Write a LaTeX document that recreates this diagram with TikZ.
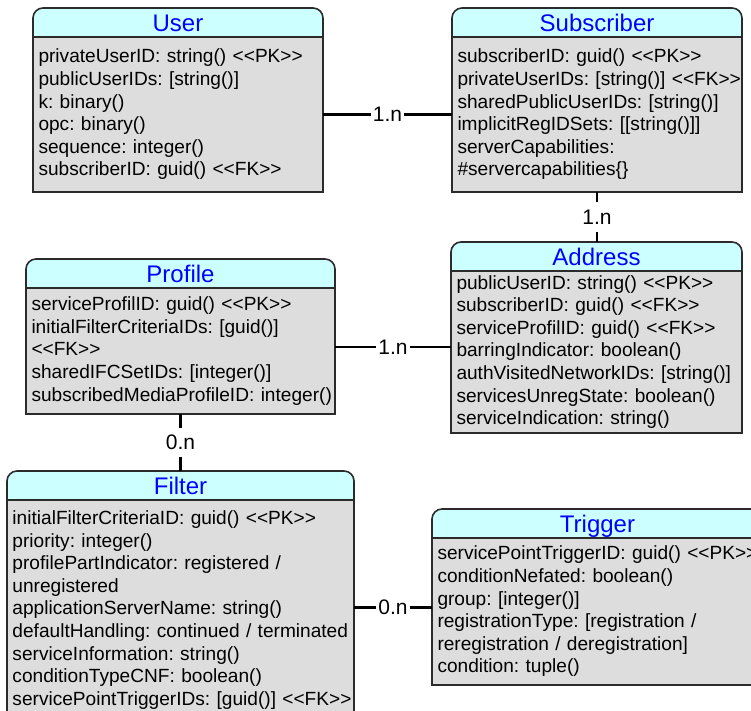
\documentclass[tikz,border=0pt]{standalone}
\usepackage{fontspec}
\setmainfont{Liberation Sans}[Ligatures=TeXOff]
\usetikzlibrary{positioning,backgrounds}
\definecolor{headcyan}{HTML}{CCFFFF}
\definecolor{bodygrey}{HTML}{DDDDDD}
\definecolor{titleblue}{HTML}{0000FF}
\definecolor{frameline}{HTML}{2B2B2B}
\frenchspacing
\hyphenpenalty=10000
\exhyphenpenalty=10000

\begin{document}
\begin{tikzpicture}[x=1pt,y=-1pt,
			head/.style={minimum height=29pt,inner sep=0pt,outer sep=0pt,text height=17pt,text depth=0pt,text=titleblue,font=\fontsize{24}{28}\selectfont},
			attrs/.style={draw=frameline,line width=1.6pt,fill=bodygrey,outer sep=0pt,inner xsep=5.5pt,inner ysep=0pt,align=left,font=\fontsize{19.1}{22.6}\selectfont},
			ent/.style={draw=frameline,line width=1.6pt,fill=headcyan,rounded corners=10pt},
			conn/.style={line width=2.6pt,black},
			card/.style={fill=white,inner xsep=2pt,inner ysep=7.5pt,font=\fontsize{21}{25}\selectfont}
			]
			\useasboundingbox (0,0) rectangle (751,710);
			% headers
			\node[head,minimum width=290pt] (userH) at (178,22.5) {User};
			\node[head,minimum width=290pt] (subH) at (597,22.5) {Subscriber};
			\node[head,minimum width=291pt] (addrH) at (596.5,256.5) {Address};
			\node[head,minimum width=309pt] (profH) at (180.5,273.5) {Profile};
			\node[head,minimum width=347pt] (filtH) at (180.5,485.5) {Filter};
			\node[head,minimum width=331pt] (trigH) at (597.5,523.5) {Trigger};
			% attributes
			\node[attrs,text width=279pt,minimum height=155pt,below=0pt of userH] (user) {
				privateUserID: string() <<PK>>\\
				publicUserIDs: [string()]\\
				k: binary()\\
				opc: binary()\\
				sequence: integer()\\
				subscriberID: guid() <<FK>>};
			\node[attrs,text width=279pt,minimum height=155pt,below=0pt of subH] (sub) {
				subscriberID: guid() <<PK>>\\
				privateUserIDs:~[string()]~<<FK>>\\
				sharedPublicUserIDs: [string()]\\
				implicitRegIDSets: [[string()]]\\
				serverCapabilities:\\
				\#servercapabilities\{\}};
			\node[attrs,text width=280pt,minimum height=162pt,below=0pt of addrH] (addr) {
				publicUserID: string() <<PK>>\\
				subscriberID: guid() <<FK>>\\
				serviceProfilID: guid() <<FK>>\\
				barringIndicator: boolean()\\
				authVisitedNetworkIDs:~[string()]\\
				servicesUnregState: boolean()\\
				serviceIndication: string()};
			\node[attrs,text width=298pt,minimum height=126pt,below=0pt of profH] (prof) {
				serviceProfilID: guid() <<PK>>\\
				initialFilterCriteriaIDs: [guid()]\\
				<<FK>>\\
				sharedIFCSetIDs: [integer()]\\
				subscribedMediaProfileID:~integer()};
			\node[attrs,text width=336pt,minimum height=220pt,below=0pt of filtH] (filt) {
				initialFilterCriteriaID: guid() <<PK>>\\
				priority: integer()\\
				profilePartIndicator: registered /\\
				unregistered\\
				applicationServerName: string()\\
				defaultHandling: continued /~terminated\\
				serviceInformation: string()\\
				conditionTypeCNF: boolean()\\
				servicePointTriggerIDs:~[guid()]~<<FK>>};
			\node[attrs,text width=320pt,minimum height=147pt,below=0pt of trigH] (trig) {
				servicePointTriggerID:~guid()~<<PK>>\\
				conditionNefated: boolean()\\
				group: [integer()]\\
				registrationType: [registration /\\
				reregistration / deregistration]\\
				condition: tuple()};
			\begin{scope}[on background layer]
				\foreach \h/\b in {userH/user,subH/sub,addrH/addr,profH/prof,filtH/filt,trigH/trig}
				\draw[ent] (\h.north west) rectangle (\b.south east);
			\end{scope}
			% relations
			\coordinate (pa) at ([yshift=4pt]prof.east);
			\coordinate (ft) at ([yshift=4pt]trig.west);
			\draw[conn] (user) -- node[card]{1.n} (sub);
			\draw[conn] (sub.south) -- node[card]{1.n} (sub.south |- addrH.north);
			\draw[conn] (pa) -- node[card]{1.n} (pa -| addr.west);
			\draw[conn] (prof.south) -- node[card]{0.n} (prof.south |- filtH.north);
			\draw[conn] (ft -| filt.east) -- node[card]{0.n} (ft);
		\end{tikzpicture}
\end{document}
